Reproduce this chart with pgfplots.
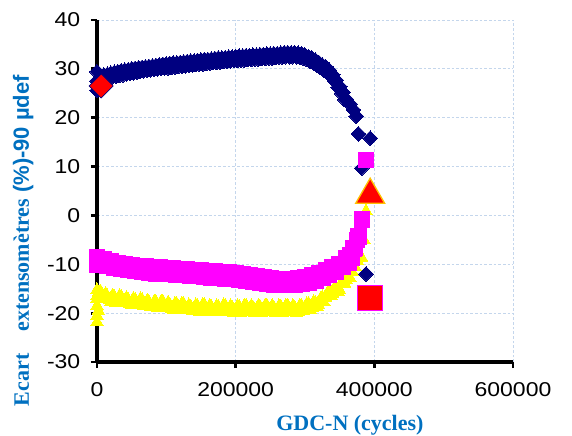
\documentclass[border=0pt]{standalone}
\usepackage{fontspec}
\usepackage{graphicx}
\usepackage{pgfplots}
\pgfplotsset{compat=1.18}
\setmainfont{Liberation Sans}
\newfontfamily\timesb{Liberation Serif}
\definecolor{lblue}{RGB}{0,112,192}
\definecolor{navyb}{RGB}{0,0,128}
\definecolor{gridb}{RGB}{196,214,236}
\definecolor{mag}{RGB}{255,0,255}
\definecolor{yel}{RGB}{255,255,0}
\definecolor{orb}{RGB}{255,192,0}
\newcommand{\tl}[1]{\scalebox{1.15}[1]{#1}}

\pgfplotstableread{
x y
0 27.5
0 29.4
0 25.6
1000 26.3
2500 27.3
5000 28.3
7500 27.7
10000 28.7
12500 28.0
15000 28.9
17500 28.2
20000 29.1
22500 28.4
25000 29.3
27500 28.5
30000 29.4
32500 28.7
35000 29.6
37500 28.8
40000 29.7
42500 29.0
45000 29.8
47500 29.1
50000 30.0
52500 29.2
55000 30.1
57500 29.3
60000 30.2
62500 29.5
65000 30.3
67500 29.6
70000 30.4
72500 29.7
75000 30.5
77500 29.8
80000 30.6
82500 29.9
85000 30.7
87500 30.0
90000 30.8
92500 30.1
95000 30.9
97500 30.2
100000 31.0
102500 30.2
105000 31.1
107500 30.3
110000 31.2
112500 30.4
115000 31.2
117500 30.5
120000 31.3
122500 30.5
125000 31.4
127500 30.6
130000 31.5
132500 30.7
135000 31.6
137500 30.8
140000 31.6
142500 30.9
145000 31.7
147500 31.0
150000 31.8
152500 31.0
155000 31.9
157500 31.1
160000 31.9
162500 31.2
165000 32.0
167500 31.3
170000 32.1
172500 31.3
175000 32.2
177500 31.4
180000 32.2
182500 31.5
185000 32.3
187500 31.5
190000 32.4
192500 31.6
195000 32.4
197500 31.7
200000 32.5
202500 31.7
205000 32.6
207500 31.8
210000 32.6
212500 31.8
215000 32.7
217500 31.9
220000 32.7
222500 31.9
225000 32.8
227500 32.0
230000 32.8
232500 32.0
235000 32.9
237500 32.1
240000 32.9
242500 32.1
245000 33.0
247500 32.2
250000 33.0
252500 32.2
255000 33.1
257500 32.3
260000 33.1
262500 32.4
265000 33.2
267500 32.4
270000 33.3
272500 32.5
275000 33.3
277500 32.5
280000 33.3
282500 32.5
285000 33.3
287500 32.5
290000 33.2
292500 32.4
295000 33.1
297500 32.2
300000 32.8
302500 31.9
305000 32.5
307500 31.5
310000 32.2
312500 31.2
315000 31.8
317500 30.8
320000 31.3
322500 30.3
325000 30.8
327500 29.8
330000 30.4
332500 29.3
335000 29.7
337500 28.5
340000 28.8
342500 27.5
345000 27.7
347500 26.2
350000 26.4
352500 25.0
355000 25.2
357500 23.7
360000 23.7
365000 22.8
370000 21.6
374000 20.3
377000 16.7
382000 9.7
388000 -12.0
394000 15.8
}\blue

\pgfplotstableread{
x y
0 -8.6
0 -9.8
0 -10.0
5000 -9.9
10000 -8.9
15000 -10.4
20000 -9.4
25000 -10.7
30000 -9.7
35000 -11.0
40000 -9.9
45000 -11.2
50000 -10.1
55000 -11.4
60000 -10.3
65000 -11.6
70000 -10.5
75000 -11.7
80000 -10.6
85000 -11.9
90000 -10.7
95000 -12.0
100000 -10.8
105000 -12.0
110000 -10.9
115000 -12.1
120000 -11.0
125000 -12.2
130000 -11.1
135000 -12.3
140000 -11.2
145000 -12.4
150000 -11.3
155000 -12.5
160000 -11.4
165000 -12.7
170000 -11.5
175000 -12.8
180000 -11.6
185000 -12.9
190000 -11.7
195000 -13.0
200000 -11.8
205000 -13.1
210000 -12.0
215000 -13.3
220000 -12.2
225000 -13.5
230000 -12.4
235000 -13.7
240000 -12.6
245000 -13.9
250000 -12.8
255000 -14.1
260000 -13.0
265000 -14.2
270000 -13.0
275000 -14.2
280000 -13.0
285000 -14.1
290000 -12.9
295000 -14.0
300000 -12.7
305000 -13.7
310000 -12.3
315000 -13.3
320000 -11.9
325000 -12.8
330000 -11.3
335000 -12.2
340000 -10.7
345000 -11.5
350000 -9.9
355000 -10.5
360000 -8.7
362500 -9.6
365000 -8.1
367500 -8.6
370000 -6.8
372000 -6.7
375000 -5.0
377000 -4.3
382000 -0.8
388000 11.3
}\magenta

\pgfplotstableread{
x y
0 -17.0
0 -15.2
0 -16.5
0 -18.5
0 -20.5
0 -21.8
2000 -19.5
2000 -15.8
5000 -15.5
7500 -16.8
10000 -17.1
12500 -16.0
15000 -16.5
17500 -17.4
20000 -17.7
22500 -16.3
25000 -16.6
27500 -17.9
30000 -17.5
32500 -16.4
35000 -16.6
37500 -17.8
40000 -17.9
42500 -16.8
45000 -17.2
47500 -18.2
50000 -18.3
52500 -17.0
55000 -17.2
57500 -18.4
60000 -18.1
62500 -17.1
65000 -17.2
67500 -18.6
70000 -18.5
72500 -17.4
75000 -17.7
77500 -18.8
80000 -18.8
82500 -17.6
85000 -17.7
87500 -18.9
90000 -18.6
92500 -17.6
95000 -17.6
97500 -19.0
100000 -18.9
102500 -17.8
105000 -18.2
107500 -19.2
110000 -19.3
112500 -18.0
115000 -18.1
117500 -19.3
120000 -19.0
122500 -18.0
125000 -18.1
127500 -19.4
130000 -19.4
132500 -18.3
135000 -18.6
137500 -19.6
140000 -19.6
142500 -18.3
145000 -18.5
147500 -19.7
150000 -19.3
152500 -18.2
155000 -18.3
157500 -19.7
160000 -19.5
162500 -18.4
165000 -18.7
167500 -19.8
170000 -19.8
172500 -18.5
175000 -18.6
177500 -19.8
180000 -19.4
182500 -18.3
185000 -18.4
187500 -19.8
190000 -19.6
192500 -18.5
195000 -18.8
197500 -19.9
200000 -19.8
202500 -18.5
205000 -18.6
207500 -19.9
210000 -19.4
212500 -18.4
215000 -18.4
217500 -19.8
220000 -19.6
222500 -18.5
225000 -18.8
227500 -19.9
230000 -19.8
232500 -18.5
235000 -18.6
237500 -19.9
240000 -19.4
242500 -18.4
245000 -18.4
247500 -19.8
250000 -19.6
252500 -18.5
255000 -18.8
257500 -19.9
260000 -19.8
262500 -18.5
265000 -18.6
267500 -19.9
270000 -19.4
272500 -18.4
275000 -18.4
277500 -19.8
280000 -19.6
282500 -18.5
285000 -18.8
287500 -19.9
290000 -19.8
292500 -18.4
295000 -18.45
297500 -19.6
300000 -19.1
302500 -18.1
305000 -18.0
307500 -19.3
310000 -19.0
312500 -17.7
315000 -17.8
317500 -18.8
320000 -18.4
322500 -17.0
325000 -16.7
327500 -17.8
330000 -16.9
332500 -15.8
335000 -15.4
337500 -16.5
340000 -16.0
342500 -14.8
345000 -14.8
347500 -15.6
350000 -15.3
352500 -13.8
355000 -13.3
357500 -14.0
360000 -13.3
362500 -12.2
365000 -12.9
368000 -11.5
372000 -10.5
376000 -9.4
380000 -8.3
382000 -8.7
385000 -5.0
388000 0.9
}\yellow

\begin{document}
\begin{tikzpicture}
\path[use as bounding box] (-72.75pt,-55.5pt) rectangle (356.25pt,271.5pt);
\begin{axis}[
  scale only axis,
  width=312pt, height=256.5pt,
  xmin=0, xmax=600000, ymin=-30, ymax=40,
  axis x line*=bottom, axis y line*=left,
  axis line style={line width=3pt, black, -},
  xtick={0,200000,400000,600000},
  xticklabels={\tl{0},\tl{200000},\tl{400000},\tl{600000}},
  ytick={-30,-20,-10,0,10,20,30,40},
  yticklabels={\tl{-30},\tl{-20},\tl{-10},\tl{0},\tl{10},\tl{20},\tl{30},\tl{40}},
  tick label style={font=\fontsize{15}{18}\selectfont, black},
  xticklabel style={yshift=-7pt},
  yticklabel style={xshift=-4.5pt},
  tick style={black, line width=2.2pt},
  major tick length=4.5pt,
  tick align=outside,
  grid=major,
  major grid style={gridb, dash pattern=on 2pt off 1.5pt, line width=0.6pt},
  scaled x ticks=false,
  clip=false,
  every axis x label/.style={at={(axis description cs:0.608,-0.199)}, anchor=base},
  every axis y label/.style={at={(axis description cs:-0.1635,0.355)}, rotate=90, anchor=base},
  xlabel={\timesb\bfseries\fontsize{16.5}{19}\selectfont\color{lblue}GDC-N (cycles)},
  ylabel={\fontsize{16.5}{19}\selectfont\color{lblue}{\timesb\bfseries Ecart\quad extensomètres} {\bfseries (\%)-90 µdef}},
]
\addplot[only marks, mark=triangle*, mark size=5.3pt, mark options={fill=yel, draw=yel, line width=0pt}] table[x=x,y=y] {\yellow};
\addplot[only marks, mark=square*, mark size=3.9pt, mark options={rotate=45, fill=navyb, draw=navyb, line width=0pt}] table[x=x,y=y] {\blue};
\addplot[only marks, mark=square*, mark size=5.8pt, mark options={fill=mag, draw=mag, line width=0pt}] table[x=x,y=y] {\magenta};
\addplot[only marks, mark=square*, mark size=6.4pt, mark options={rotate=45, fill=red, draw=navyb, line width=0.5pt}] coordinates {(6000,26.5)};
\addplot[only marks, mark=triangle*, mark size=12.5pt, mark options={fill=red, draw=orb, line width=1pt}] coordinates {(394000,4.2)};
\addplot[only marks, mark=square*, mark size=9.5pt, mark options={fill=red, draw=mag, line width=0.8pt}] coordinates {(394000,-16.9)};
\end{axis}
\end{tikzpicture}
\end{document}
